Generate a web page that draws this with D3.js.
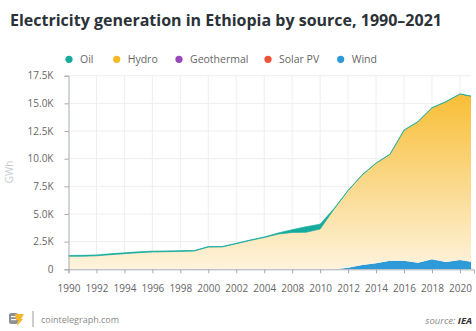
<!DOCTYPE html>
<html>
<head>
<meta charset="utf-8">
<script src="https://cdn.jsdelivr.net/npm/d3@7"></script>
<style>
  body { margin: 0; background: #fff; }
  svg { display: block; font-family: "Open Sans", sans-serif; }
</style>
</head>
<body>
<div id="chart"></div>
<script>
// years shown on the chart (2006 and 2007 are absent from the axis)
var years = ["1990","1991","1992","1993","1994","1995","1996","1997","1998","1999",
             "2000","2001","2002","2003","2004","2005","2008","2009","2010","2011",
             "2012","2013","2014","2015","2016","2017","2018","2019","2020","2021"];

// GWh
var oil =        [80, 80, 80, 80, 80, 80, 70, 70, 60, 50,
                  40, 40, 40, 40, 50, 100, 250, 500, 440, 50,
                  10, 5, 0, 0, 0, 0, 0, 0, 0, 0];
var hydro =      [1170, 1180, 1220, 1320, 1410, 1500, 1570, 1590, 1620, 1630,
                  1990, 2010, 2310, 2610, 2870, 3180, 3320, 3340, 3630, 5450,
                  6970, 8135, 9060, 9620, 11800, 12750, 13700, 14490, 15010, 14970];
var geothermal = [0, 0, 0, 0, 0, 0, 0, 0, 0, 20,
                  20, 10, 0, 0, 0, 0, 10, 10, 10, 0,
                  0, 0, 0, 0, 0, 0, 0, 0, 0, 0];
var solar =      [0, 0, 0, 0, 0, 0, 0, 0, 0, 0,
                  0, 0, 0, 0, 0, 0, 0, 0, 0, 0,
                  0, 0, 0, 0, 0, 0, 0, 0, 0, 0];
var wind =       [0, 0, 0, 0, 0, 0, 0, 0, 0, 0,
                  0, 0, 0, 0, 0, 0, 0, 0, 0, 0,
                  150, 390, 540, 780, 780, 600, 900, 660, 840, 630];

var yTicks = [0, 2500, 5000, 7500, 10000, 12500, 15000, 17500];
var legendNames = ["Oil", "Hydro", "Geothermal", "Solar PV", "Wind"];
var legendColors = ["#16ab9c", "#f7b924", "#9b47b8", "#ee5338", "#2f9ad8"];

Desenhar();

function Desenhar()
{
  var W = 476, H = 331;
  var pLeft = 68.5, pRight = 471, pTop = 75.7, pBottom = 269.3;

  var svg = d3.select("#chart").append("svg")
      .attr("width", W)
      .attr("height", H);

  var table = years.map(function(yr, i) {
    return { year: yr, wind: wind[i], solar: solar[i], geothermal: geothermal[i], hydro: hydro[i], oil: oil[i] };
  });

  var keys = ["wind", "solar", "geothermal", "hydro", "oil"];
  var colorOf = { oil: legendColors[0], hydro: "url(#hydroGrad)", geothermal: legendColors[2], solar: legendColors[3], wind: legendColors[4] };

  var x = d3.scalePoint().domain(years).range([pLeft, pLeft + 29 * 13.98]);
  var y = d3.scaleLinear().domain([0, 17500]).range([pBottom, pTop]);

  var defs = svg.append("defs");
  var grad = defs.append("linearGradient")
      .attr("id", "hydroGrad")
      .attr("gradientUnits", "userSpaceOnUse")
      .attr("x1", 0).attr("y1", pTop).attr("x2", 0).attr("y2", pBottom);
  grad.append("stop").attr("offset", "0%").attr("stop-color", "#f7b824");
  grad.append("stop").attr("offset", "100%").attr("stop-color", "#fef3dd");

  defs.append("clipPath").attr("id", "plotClip")
    .append("rect").attr("x", pLeft).attr("y", pTop - 5).attr("width", pRight - pLeft).attr("height", pBottom - pTop + 5);

  // title
  svg.append("text")
    .attr("x", 10).attr("y", 26)
    .attr("font-size", 16).attr("font-weight", 700)
    .attr("fill", "#2b3238")
    .text("Electricity generation in Ethiopia by source, 1990–2021");

  // legend
  var legX = [69, 116.7, 179, 268, 340.7];
  legendNames.forEach(function(n, i) {
    svg.append("circle").attr("cx", legX[i]).attr("cy", 59.3).attr("r", 3.6).attr("fill", legendColors[i]);
    svg.append("text").attr("x", legX[i] + 11).attr("y", 59.3).attr("dy", "0.35em")
      .attr("font-size", 10.5).attr("fill", "#666").text(n);
  });

  // grid
  var xLabels = years.filter(function(d, i) { return i % 2 === 0; });
  svg.append("g").selectAll("line").data(yTicks.slice(1)).enter().append("line")
    .attr("x1", pLeft).attr("x2", pRight)
    .attr("y1", function(d) { return y(d); }).attr("y2", function(d) { return y(d); })
    .attr("stroke", "#eeeeee").attr("stroke-width", 1);
  svg.append("g").selectAll("line").data(xLabels.slice(1)).enter().append("line")
    .attr("x1", function(d) { return x(d); }).attr("x2", function(d) { return x(d); })
    .attr("y1", pTop).attr("y2", pBottom)
    .attr("stroke", "#eeeeee").attr("stroke-width", 1);

  // areas
  var series = d3.stack().keys(keys)(table);
  var area = d3.area()
    .x(function(d) { return x(d.data.year); })
    .y0(function(d) { return y(d[0]); })
    .y1(function(d) { return y(d[1]); });

  svg.append("g").attr("clip-path", "url(#plotClip)")
    .selectAll("path").data(series).enter().append("path")
    .attr("d", area)
    .attr("fill", function(s) { return colorOf[s.key]; })
    .attr("stroke", function(s) { return s.key === "oil" ? legendColors[0] : "none"; })
    .attr("stroke-width", 0.7);

  // axes
  var yAxis = svg.append("g").attr("transform", "translate(" + pLeft + ",0)")
    .call(d3.axisLeft(y).tickValues(yTicks).tickSize(4).tickPadding(11)
      .tickFormat(function(d) { return d === 0 ? "0" : (d / 1000).toFixed(1) + "K"; }));
  var xAxis = svg.append("g").attr("transform", "translate(0," + pBottom + ")")
    .call(d3.axisBottom(x).tickValues(xLabels).tickSize(4).tickPadding(12));

  [yAxis, xAxis].forEach(function(a) {
    a.select(".domain").attr("stroke", "#a3abb2");
    a.selectAll(".tick line").attr("stroke", "#a3abb2");
    a.selectAll("text").attr("font-family", "Open Sans").attr("font-size", 10).attr("fill", "#666");
  });

  svg.append("text")
    .attr("transform", "translate(13,172) rotate(-90)")
    .attr("text-anchor", "middle")
    .attr("font-size", 10).attr("fill", "#c5cbcf")
    .text("GWh");

  // footer
  var logo = svg.append("g").attr("transform", "translate(9,312)");
  logo.append("rect").attr("x", 0).attr("y", 1).attr("width", 9).attr("height", 11).attr("rx", 2).attr("fill", "#8d9196");
  logo.append("rect").attr("x", 2).attr("y", 4).attr("width", 5).attr("height", 1.2).attr("fill", "#fff");
  logo.append("rect").attr("x", 2).attr("y", 7).attr("width", 5).attr("height", 1.2).attr("fill", "#fff");
  logo.append("path").attr("d", "M6,2 L15,2 L12,7 L14,7 L8,14 L9,8 L7,8 Z").attr("fill", "#f5b52a");
  svg.append("line").attr("x1", 33).attr("x2", 33).attr("y1", 311).attr("y2", 327).attr("stroke", "#9a9a9a");
  svg.append("text").attr("x", 41).attr("y", 320).attr("dy", "0.35em")
    .attr("font-size", 9).attr("fill", "#888").text("cointelegraph.com");
  var src = svg.append("text").attr("x", 472).attr("y", 321).attr("dy", "0.35em")
    .attr("text-anchor", "end").attr("font-size", 9.5).attr("font-style", "italic").attr("fill", "#888");
  src.append("tspan").text("source: ");
  src.append("tspan").attr("font-weight", 700).attr("fill", "#333").text("IEA");
}
</script>
</body>
</html>
